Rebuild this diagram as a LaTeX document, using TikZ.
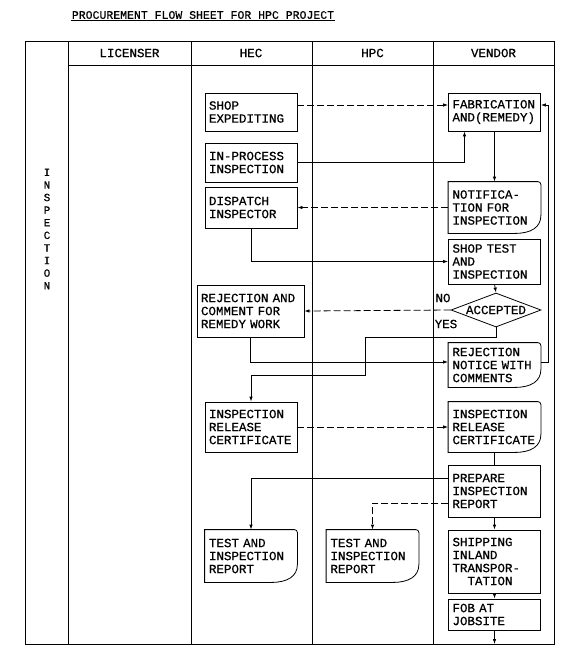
\documentclass[tikz,border=0pt]{standalone}
\usepackage{fontspec}
\setmonofont{Liberation Mono}[FakeBold=0.5]
\usetikzlibrary{arrows.meta, shapes.geometric}
\tikzset{
  flowtext/.style={font=\fontsize{12.5}{13}\selectfont\ttfamily},
  flowbox/.style={flowtext, draw, line width=0.8pt, align=left, text width=84pt,
    inner xsep=4pt, inner ysep=0pt},
  docbox/.style={flowbox, draw=none},
  decision/.style={flowtext, draw, line width=0.8pt, diamond, aspect=2.6, inner sep=0pt,
    minimum width=90pt, minimum height=34pt},
  lane/.style={line width=0.9pt},
  flow/.style={line width=0.8pt, -{Latex[length=5pt,width=3.5pt]}},
  plainflow/.style={line width=0.8pt},
  broken/.style={dash pattern=on 7pt off 3pt}
}
\newcommand\docshape[1]{%
  \draw[line width=0.8pt] (#1.south west) -- (#1.north west)
    [rounded corners=3pt] -- (#1.north east) [sharp corners]
    -- ([yshift=18pt]#1.south east)
    .. controls ([yshift=6pt]#1.south east) and ([xshift=-10pt]#1.south east)
    .. ([xshift=-26pt]#1.south east) -- cycle;}

\begin{document}
\begin{tikzpicture}[x=1pt, y=-1pt]
\useasboundingbox (0,0) rectangle (564,654);

\node[flowtext, font=\fontsize{11.5}{12}\selectfont\ttfamily, inner sep=1pt] (title) at (203,15)
  {PROCUREMENT FLOW SHEET FOR HPC PROJECT};
\draw[line width=0.6pt] (title.south west) -- (title.south east);

\draw[lane] (25,41) rectangle (554,644);
\foreach \x in {68,191,312,433}
  \draw[lane] (\x,41) -- (\x,644);
\draw[lane] (68,65) -- (554,65);

\node[flowtext] (licenser) at (129.5,53) {LICENSER};
\node[flowtext] (hec) at (251,53) {HEC};
\node[flowtext] (hpc) at (372.5,53) {HPC};
\node[flowtext] (vendor) at (493.5,53) {VENDOR};
\node[flowtext, font=\fontsize{11}{12.6}\selectfont\ttfamily, align=center] (phase) at (47,229)
  {I\\N\\S\\P\\E\\C\\T\\I\\O\\N};

\node[flowbox, minimum height=38pt] (shop) at (251,112) {SHOP\\EXPEDITING};
\node[flowbox, minimum height=39pt] (inproc) at (251,162.5) {IN-PROCESS\\INSPECTION};
\node[flowbox, minimum height=41pt] (dispatch) at (251,207.5) {DISPATCH\\INSPECTOR};
\node[flowbox, text width=99pt, minimum height=52pt] (rejcom) at (250.5,311)
  {REJECTION AND\\COMMENT FOR\\REMEDY WORK};
\node[flowbox, minimum height=50pt] (relhec) at (251,427) {INSPECTION\\RELEASE\\CERTIFICATE};
\node[docbox, minimum height=52pt] (testhec) at (251,556) {TEST AND\\INSPECTION\\REPORT};
\node[docbox, minimum height=52pt] (testhpc) at (372.5,556) {TEST AND\\INSPECTION\\REPORT};

\node[flowbox, minimum height=38pt] (fab) at (494.5,112) {FABRICATION\\AND(REMEDY)};
\node[docbox, minimum height=51pt] (notif) at (494.5,207.5) {NOTIFICA-\\TION FOR\\INSPECTION};
\node[flowbox, minimum height=45pt] (shoptest) at (494.5,261.5) {SHOP TEST\\AND\\INSPECTION};
\node[decision] (acc) at (496,310) {ACCEPTED};
\node[docbox, minimum height=44pt] (rejnot) at (494.5,365) {REJECTION\\NOTICE WITH\\COMMENTS};
\node[docbox, minimum height=50pt] (relven) at (494.5,427) {INSPECTION\\RELEASE\\CERTIFICATE};
\node[flowbox, minimum height=52pt] (prep) at (494.5,491) {PREPARE\\INSPECTION\\REPORT};
\node[flowbox, minimum height=63pt] (ship) at (494.5,561.5)
  {SHIPPING\\INLAND\\TRANSPOR-\\\hspace*{15pt}TATION};
\node[flowbox, minimum height=31pt] (fob) at (494.5,614.5) {FOB AT\\JOBSITE};

\docshape{testhec}
\docshape{testhpc}
\docshape{notif}
\docshape{rejnot}
\docshape{relven}

\node[flowtext] (no) at (443,298) {NO};
\node[flowtext] (yes) at (446,324) {YES};

\coordinate (jogA) at (365,337);
\coordinate (jogB) at (365,375);
\coordinate (fobout) at (494.5,644);

\draw[flow, broken] ([yshift=7pt]shop.east) -- ([yshift=7pt]fab.west);
\draw[flow] (inproc.east) -| ([xshift=-30pt]fab.south);
\draw[flow] (fab.south) -- (notif.north);
\draw[flow, broken] (notif.west) -- (dispatch.east);
\draw[flow] (dispatch.south) |- (shoptest.west);
\draw[flow] (shoptest.south) -- (acc.north);
\draw[flow, broken] (acc.west) -- (rejcom.east);
\draw[flow] (acc.south) |- (jogA) -- (jogB) -| (relhec.north);
\draw[flow] (rejcom.south) |- ([yshift=3pt]rejnot.west);
\draw[flow] ([yshift=3pt]rejnot.east) -- ++(7,0) |- ([yshift=7pt]fab.east);
\draw[flow, broken] (relhec.east) -- (relven.west);
\draw[plainflow] (relven.south) -- (prep.north);
\draw[flow] ([yshift=13pt]prep.west) -| (testhec.north);
\draw[flow, broken] ([yshift=-12pt]prep.west) -| (testhpc.north);
\draw[flow] (prep.south) -- (ship.north);
\draw[flow] (ship.south) -- (fob.north);
\draw[flow] (fob.south) -- (fobout);
\end{tikzpicture}
\end{document}
